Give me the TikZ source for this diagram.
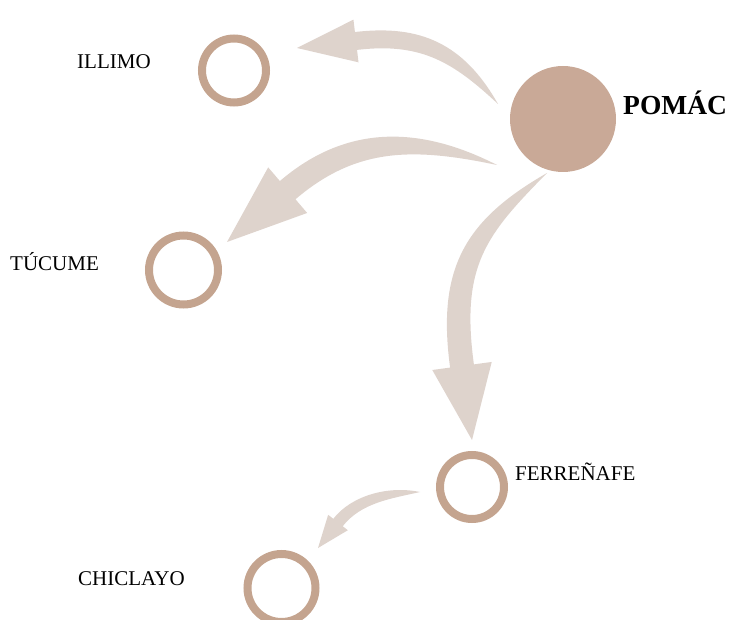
\documentclass[tikz,border=0pt]{standalone}
\usepackage{fontspec}
\setmainfont{Liberation Serif}
\usepackage{tikz}
\usetikzlibrary{calc}
\definecolor{ringcol}{RGB}{196,164,143}
\definecolor{corecol}{RGB}{201,169,151}
\definecolor{flowcol}{RGB}{222,211,204}

% tapered bent arrow: tail, tip, ctrl near tail, ctrl near head,
% body half width, tail bulge, head half width, head length
\newcommand{\flowarrow}[8]{%
  \coordinate (fb) at ($(#2)!#8!(#4)$);
  \coordinate (fj1) at ($(fb)!#5!90:(#2)$);
  \coordinate (fj2) at ($(fb)!#5!-90:(#2)$);
  \coordinate (fh1) at ($(fb)!#7!90:(#2)$);
  \coordinate (fh2) at ($(fb)!#7!-90:(#2)$);
  \coordinate (fa1) at ($(#3)!#6!90:(#4)$);
  \coordinate (fa2) at ($(#3)!#6!-90:(#4)$);
  \coordinate (fc1) at ($(#4)!#5!90:(#2)$);
  \coordinate (fc2) at ($(#4)!#5!-90:(#2)$);
  \fill [flow] (#1) .. controls (fa1) and (fc1) .. (fj1)
    -- (fh1) -- (#2) -- (fh2) -- (fj2)
    .. controls (fc2) and (fa2) .. (#1) -- cycle;
}

\begin{document}
\begin{tikzpicture}[x=1pt, y=1pt,
    town/.style={draw=ringcol, circle, line width=8pt, inner sep=0pt},
    place/.style={font=\fontsize{21}{25}\selectfont, anchor=base west, inner sep=0pt},
    flow/.style={fill=flowcol}]
    \useasboundingbox (0,0) rectangle (731,619);

    \node [circle, fill=corecol, minimum size=106pt, inner sep=0pt] (pomac) at (563,500) {};
    \node [town, minimum size=64pt] (illimo) at (234,548.5) {};
    \node [town, minimum size=69pt] (tucume) at (183.5,349) {};
    \node [town, minimum size=64pt] (ferrenafe) at (472,132) {};
    \node [town, minimum size=68pt] (chiclayo) at (281.5,31) {};

    \node [place, font=\fontsize{27.5}{32}\selectfont\bfseries] (pomac-t) at (623,504) {POMÁC};
    \node [place] (illimo-t) at (77,550) {ILLIMO};
    \node [place] (tucume-t) at (10,348) {TÚCUME};
    \node [place] (ferrenafe-t) at (515,139) {FERREÑAFE};
    \node [place] (chiclayo-t) at (78,34) {CHICLAYO};

    % arrow ends
    \coordinate (t1) at (498,515);
    \coordinate (e1) at (297,571);
    \coordinate (t2) at (497,454);
    \coordinate (e2) at (227,377);
    \coordinate (t3) at (547,446);
    \coordinate (e3) at (472,179);
    \coordinate (t4) at (420,127);
    \coordinate (e4) at (318,71);

    \flowarrow{t1}{e1}{458.4,566.3}{420.5,585.7}{9pt}{11pt}{21.5pt}{59.4pt}
    \flowarrow{t2}{e2}{412.4,484.6}{348.5,480.8}{12pt}{13pt}{30pt}{79.8pt}
    \flowarrow{t3}{e3}{475.4,391.5}{448.6,352.1}{12pt}{13pt}{30pt}{74.7pt}
    \flowarrow{t4}{e4}{390,127}{356.5,120.1}{6pt}{6.7pt}{12.5pt}{32.4pt}
\end{tikzpicture}
\end{document}
